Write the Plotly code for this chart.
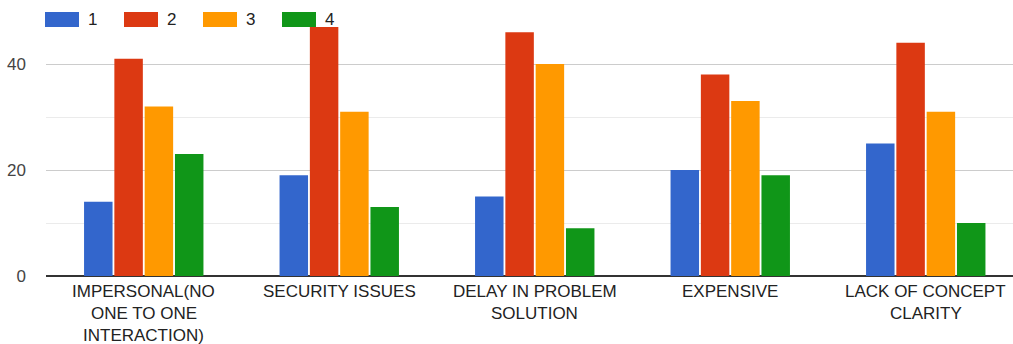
import plotly.graph_objects as go

categories = ["IMPERSONAL(NO\nONE TO ONE\nINTERACTION)", "SECURITY ISSUES",
              "DELAY IN PROBLEM\nSOLUTION", "EXPENSIVE", "LACK OF CONCEPT\nCLARITY"]
series_names = ["1", "2", "3", "4"]
s1 = [14, 19, 15, 20, 25]
s2 = [41, 47, 46, 38, 44]
s3 = [32, 31, 40, 33, 31]
s4 = [23, 13, 9, 19, 10]
series_values = [s1, s2, s3, s4]
colors = ["#3366cc", "#dc3912", "#ff9900", "#109618"]
y_ticks = [0, 20, 40]

W, H = 1013, 344
ML, MR, MT, MB = 46, 0, 11, 68
PW, PH = W - ML - MR, H - MT - MB
FONT = "Liberation Sans, Arial, sans-serif"
CAT_PX = 195.5  # pixel width of one category slot (chart is cropped on the right)

xkeys = list(range(len(categories)))
fig = go.Figure()
for name, vals, col in zip(series_names, series_values, colors):
    fig.add_trace(go.Bar(x=xkeys, y=vals, name=name, marker=dict(color=col, line=dict(width=0)),
                         showlegend=False))

annotations = []
for i, lab in enumerate(categories):
    for j, line in enumerate(lab.split("\n")):
        annotations.append(dict(x=i, y=0, xref="x", yref="y", text=line, showarrow=False,
                                yanchor="middle", xanchor="center", yshift=-15 - 22 * j,
                                font=dict(family=FONT, size=17, color="#222222")))

shapes = []
# custom legend (Google-chart style boxes)
box_w, step = 34, 79
LEG_X0 = 45 - ML
for k, (name, col) in enumerate(zip(series_names, colors)):
    x0 = LEG_X0 + k * step
    y_top, y_bot = 12 - MT, 27 - MT
    shapes.append(dict(type="rect", xref="paper", yref="paper",
                       x0=x0 / PW, x1=(x0 + box_w) / PW,
                       y0=1 - y_bot / PH, y1=1 - y_top / PH,
                       fillcolor=col, line=dict(width=0), layer="above"))
    annotations.append(dict(x=(x0 + box_w + 7) / PW, y=1 - (19.5 - MT) / PH, xref="paper", yref="paper",
                            text=name, showarrow=False, xanchor="left", yanchor="middle",
                            font=dict(family=FONT, size=17, color="#222222")))

fig.update_layout(
    width=W, height=H,
    margin=dict(l=ML, r=MR, t=MT, b=MB, pad=0),
    paper_bgcolor="white", plot_bgcolor="white",
    barmode="group", bargap=0.38, bargroupgap=0.06,
    font=dict(family=FONT, size=17, color="#444444"),
    xaxis=dict(range=[-0.5, -0.5 + PW / CAT_PX], showticklabels=False, showgrid=False,
               zeroline=False, showline=False, ticks=""),
    yaxis=dict(range=[0, 50], tickvals=y_ticks, showgrid=True, gridcolor="#cccccc", gridwidth=1,
               zeroline=True, zerolinecolor="#333333", zerolinewidth=2,
               minor=dict(dtick=10, showgrid=True, gridcolor="#ebebeb", gridwidth=1),
               tickfont=dict(family=FONT, size=17, color="#444444"), ticklabelstandoff=19,
               ticks=""),
    annotations=annotations, shapes=shapes,
)
fig.write_html("out.html", config={"displayModeBar": False})
